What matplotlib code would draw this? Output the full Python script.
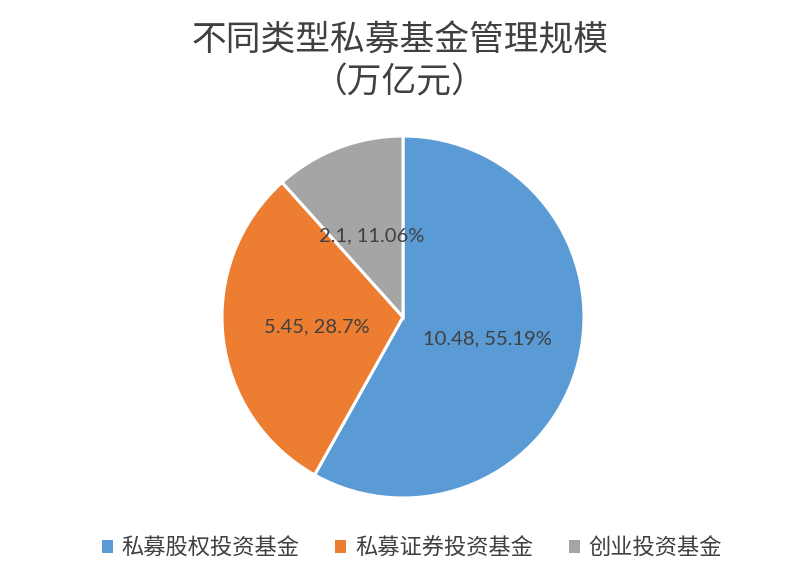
import numpy as np
import matplotlib
matplotlib.use('Agg')
import matplotlib.pyplot as plt
from matplotlib.patches import Patch

plt.rcParams['font.family'] = ['Noto Sans CJK SC', 'DejaVu Sans']

# data
categories = ['私募股权投资基金', '私募证券投资基金', '创业投资基金']
values = [10.48, 5.45, 2.1]
pct_labels = ['55.19%', '28.7%', '11.06%']
colors = ['#5B9BD5', '#ED7D31', '#A5A5A5']
title = '不同类型私募基金管理规模\n（万亿元）'

fig = plt.figure(figsize=(8, 5.8), dpi=100)
ax = fig.add_axes([0, 0, 1, 1])
ax.set_xlim(0, 800)
ax.set_ylim(0, 580)
ax.set_aspect('equal')
ax.axis('off')

cx, cy, r = 403, 263, 181
wedges, _ = ax.pie(values, colors=colors, startangle=90, counterclock=False,
                   center=(cx, cy), radius=r,
                   wedgeprops=dict(edgecolor='white', linewidth=2.2))
ax.set_xlim(0, 800)
ax.set_ylim(0, 580)

# data labels inside slices
for w, v, p in zip(wedges, values, pct_labels):
    mid = np.deg2rad((w.theta1 + w.theta2) / 2)
    x = cx + 0.48 * r * np.cos(mid)
    y = cy + 0.48 * r * np.sin(mid)
    ax.text(x, y, f'{v}, {p}', ha='center', va='center', fontsize=14.5,
            color='#404040', family=['Lato', 'DejaVu Sans'])

fig.text(0.5, 0.893, title, ha='center', va='center', fontsize=25,
         color='#404040', linespacing=1.25, fontweight='light')

handles = [Patch(facecolor=c, edgecolor='none') for c in colors]
fig.legend(handles, categories, loc='center', bbox_to_anchor=(0.515, 0.055),
           ncol=3, frameon=False, fontsize=16, handlelength=0.5,
           handleheight=0.5, handletextpad=0.4, columnspacing=1.6,
           labelcolor='#404040')

fig.savefig('out.png', dpi=100)
